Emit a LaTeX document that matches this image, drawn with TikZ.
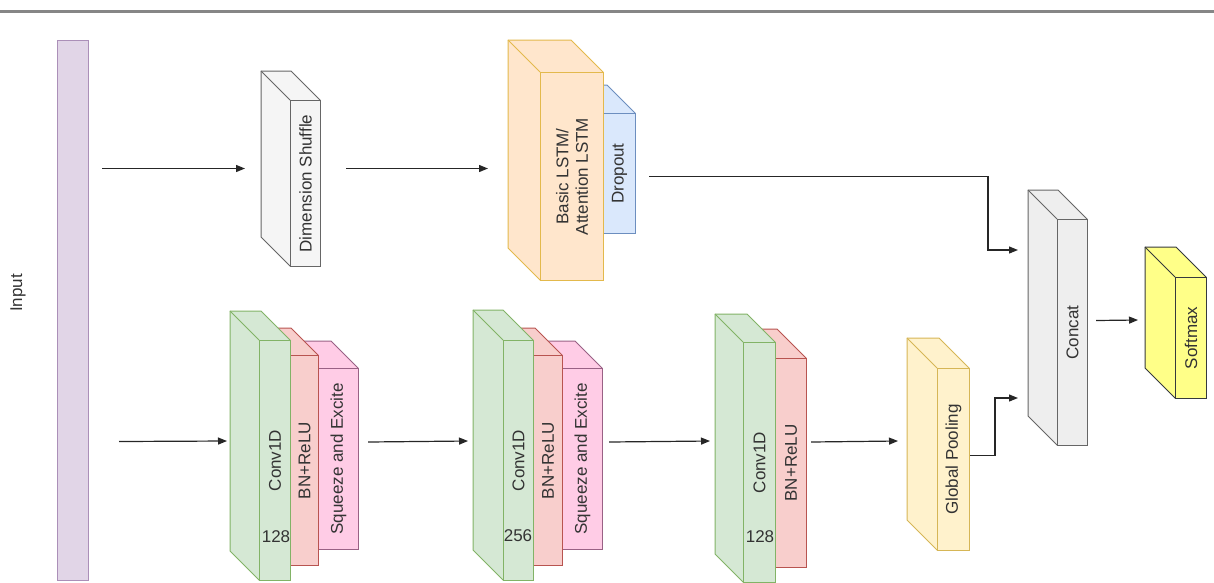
\documentclass[tikz,border=0pt]{standalone}
\usepackage{fontspec}
\setmainfont{Liberation Sans}
\usetikzlibrary{arrows.meta}
\definecolor{inpF}{HTML}{E1D5E7}\definecolor{inpS}{HTML}{9673A6}
\definecolor{grayF}{HTML}{F5F5F5}\definecolor{grayS}{HTML}{666666}
\definecolor{orF}{HTML}{FFE6CC}\definecolor{orS}{HTML}{D79B00}
\definecolor{blF}{HTML}{DAE8FC}\definecolor{blS}{HTML}{6C8EBF}
\definecolor{grF}{HTML}{D5E8D4}\definecolor{grS}{HTML}{82B366}
\definecolor{rdF}{HTML}{F8CECC}\definecolor{rdS}{HTML}{B85450}
\definecolor{pkF}{HTML}{FFCCE6}\definecolor{pkS}{HTML}{996185}
\definecolor{ylF}{HTML}{FFF2CC}\definecolor{ylS}{HTML}{D6B656}
\definecolor{ccF}{HTML}{EEEEEE}\definecolor{ccS}{HTML}{666666}
\definecolor{smF}{HTML}{FFFF88}\definecolor{smS}{HTML}{36393D}
\definecolor{txtC}{HTML}{333333}
\tikzset{
  txt/.style={text=txtC, font=\fontsize{17}{19.5}\selectfont, inner sep=0pt, align=center},
  arr/.style={-{Triangle[length=9pt,width=7pt]}, line width=1.2pt, draw=black!85},
  shufst/.style={fill=grayF, draw=grayS, line width=1pt},
  lstmst/.style={fill=orF, draw=orS!70, line width=1pt},
  dropst/.style={fill=blF, draw=blS, line width=1pt},
  convst/.style={fill=grF, draw=grS, line width=1pt},
  bnst/.style={fill=rdF, draw=rdS, line width=1pt},
  sest/.style={fill=pkF, draw=pkS, line width=1pt},
  poolst/.style={fill=ylF, draw=ylS, line width=1pt},
  catst/.style={fill=ccF, draw=ccS, line width=1pt},
  smaxst/.style={fill=smF, draw=smS, line width=1pt},
}
% name, x1, y1, x2, y2, depth, style, text
\newcommand{\cubebox}[8]{%
  \filldraw[#7, line join=round] ({#2-#6},{#3-#6}) -- ({#4-#6},{#3-#6}) -- (#4,#3) -- (#4,#5) -- (#2,#5) -- ({#2-#6},{#5-#6}) -- cycle;
  \draw[#7] ({#2-#6},{#3-#6}) -- (#2,#3);
  \node[#7, draw, rectangle, inner sep=0pt, anchor=north west,
        minimum width={(#4-#2)*1pt}, minimum height={(#5-#3)*1pt}] (#1) at (#2,#3) {};
  \node[txt, rotate=90] (#1-t) at (#1.center) {#8};
}
\begin{document}
\begin{tikzpicture}[x=1pt,y=-1pt]
\useasboundingbox (0,0) rectangle (1214,582);
% top rule
\draw[line width=3pt, draw=gray!95] (0,11.5) -- (1214,11.5);
% input
\node[fill=inpF, draw=inpS!80, line width=1pt, inner sep=0pt, anchor=north west,
      minimum width=31pt, minimum height=540pt] (inp) at (57,40) {};
\node[txt, rotate=90] (inpt) at (18,293) {Input};
% upper branch
\cubebox{ds}{290}{100}{320}{266}{29}{shufst}{Dimension Shuffle}
\cubebox{drop}{603}{113}{635}{233}{28}{dropst}{Dropout}
\cubebox{lstm}{540}{72}{603}{280}{32}{lstmst}{Basic LSTM/\\Attention LSTM}
% block 1
\cubebox{se1}{318}{368}{358}{549}{27}{sest}{Squeeze and Excite}
\cubebox{bn1}{290}{355}{318}{565}{27}{bnst}{BN+ReLU}
\cubebox{cv1}{259}{340}{290}{580}{29}{convst}{Conv1D}
\node[txt] (n1) at (276,537) {128};
% block 2
\cubebox{se2}{562}{368}{602}{549}{27}{sest}{Squeeze and Excite}
\cubebox{bn2}{533}{355}{562}{565}{27}{bnst}{BN+ReLU}
\cubebox{cv2}{503}{340}{533}{580}{30}{convst}{Conv1D}
\node[txt] (n2) at (518,536) {256};
% block 3
\cubebox{bn3}{775}{358}{806}{567}{29}{bnst}{BN+ReLU}
\cubebox{cv3}{743}{342}{775}{582}{28}{convst}{Conv1D}
\node[txt] (n3) at (760,537) {128};
% pooling, concat, softmax
\cubebox{gp}{937}{368}{969}{550}{30}{poolst}{Global Pooling}
\cubebox{conc}{1057}{219}{1087}{445}{29}{catst}{Concat}
\cubebox{smax}{1175}{277}{1206}{398}{30}{smaxst}{Softmax}
% connectors
\draw[arr] ([shift={(13,-142)}]inp.east) -- ([shift={(-45,-15)}]ds.west);
\draw[arr] ([shift={(25,-15)}]ds.east) -- ([shift={(-52,-8)}]lstm.west);
\draw[arr] ([shift={(13,3)}]drop.east) -| ([shift={(-69,31)}]conc.north west) -- ([shift={(-39,31)}]conc.north west);
\draw[arr] ([shift={(30,131)}]inp.east) -- ([shift={(-32,101)}]cv1.north west);
\draw[arr] ([shift={(9,-17)}]se1.east) -- ([shift={(-35,101)}]cv2.north west);
\draw[arr] ([shift={(6,-17)}]se2.east) -- ([shift={(-33,99)}]cv3.north west);
\draw[arr] ([shift={(4,-21)}]bn3.east) -- ([shift={(-39,73)}]gp.north west);
\draw[arr] ([shift={(0,-4)}]gp.east) -| ([shift={(-62,-48)}]conc.south west) -- ([shift={(-39,-48)}]conc.south west);
\draw[arr] ([shift={(8,-12)}]conc.east) -- ([shift={(-37,43)}]smax.north west);
\end{tikzpicture}
\end{document}
